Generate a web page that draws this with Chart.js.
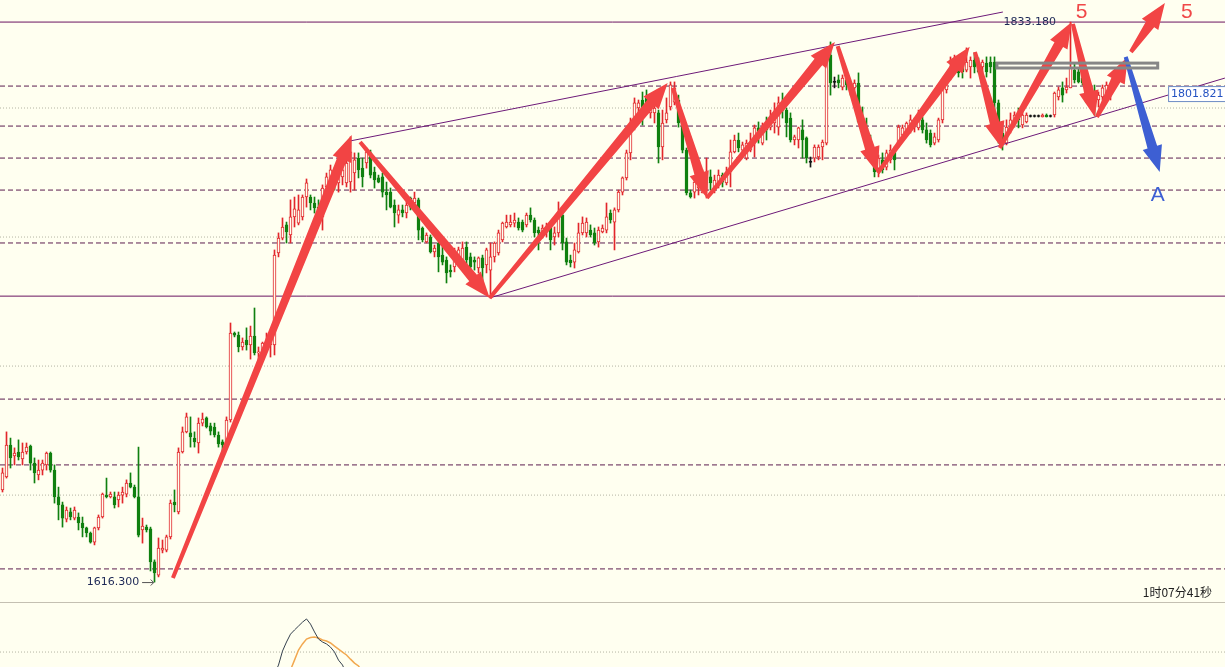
<!DOCTYPE html>
<html>
<head>
<meta charset="utf-8">
<title>XAUUSD</title>
<script src="https://cdn.jsdelivr.net/npm/chart.js@4.4.0/dist/chart.umd.min.js"></script>
<style>
  html, body { margin: 0; padding: 0; background: #fffff0; overflow: hidden; }
  #wrap { position: relative; width: 1225px; height: 667px; }
  #main { position: absolute; left: 0; top: 0; }
  #sep { position: absolute; left: 0; top: 602px; width: 1225px; height: 1px; background: #c4c0b2; }
  #sub { position: absolute; left: 0; top: 603px; }
</style>
</head>
<body>
<div id="wrap">
  <canvas id="main" width="1225" height="602"></canvas>
  <div id="sep"></div>
  <canvas id="sub" width="1225" height="64"></canvas>
</div>
<script>
// candle values, one entry per bar (bar index = position in array)
const open = [
  1652.0, 1657.0, 1669.4, 1665.2, 1666.7, 1664.0, 1666.7, 1669.0, 1662.4, 1657.8,
  1659.7, 1661.7, 1666.3, 1659.7, 1649.3, 1646.2, 1640.7, 1643.5, 1641.1, 1641.5,
  1639.2, 1637.3, 1635.3, 1631.8, 1637.3, 1641.5, 1650.0, 1649.3, 1649.3, 1648.1,
  1650.0, 1650.4, 1654.7, 1653.1, 1649.3, 1636.5, 1637.6, 1636.9, 1624.1, 1619.0,
  1628.7, 1628.7, 1633.8, 1647.3, 1643.5, 1666.7, 1674.5, 1674.1, 1672.1, 1670.2,
  1677.9, 1679.9, 1676.8, 1676.4, 1673.3, 1670.6, 1670.2, 1679.1, 1712.8, 1712.0,
  1707.4, 1710.1, 1708.2, 1711.6, 1705.1, 1706.2, 1707.4, 1708.2, 1708.2, 1743.8,
  1749.6, 1754.7, 1750.8, 1757.8, 1755.4, 1757.8, 1765.5, 1765.5, 1763.2, 1761.6,
  1757.8, 1769.4, 1772.1, 1773.3, 1771.0, 1773.3, 1771.0, 1771.4, 1774.8, 1780.6,
  1776.7, 1778.7, 1782.6, 1775.2, 1772.9, 1773.3, 1767.4, 1767.4, 1762.4, 1758.5,
  1760.5, 1759.3, 1765.1, 1763.2, 1764.4, 1753.5, 1748.1, 1750.0, 1744.2, 1747.7,
  1743.0, 1741.1, 1737.2, 1738.4, 1741.9, 1740.3, 1746.1, 1742.3, 1741.1, 1738.0,
  1741.9, 1739.2, 1737.2, 1742.3, 1743.8, 1748.9, 1753.9, 1754.7, 1755.4, 1755.8,
  1755.8, 1754.7, 1758.5, 1756.6, 1752.7, 1751.6, 1752.7, 1754.7, 1750.0, 1751.6,
  1758.5, 1748.1, 1741.1, 1740.3, 1744.2, 1751.6, 1751.6, 1752.7, 1751.6, 1748.1,
  1752.0, 1752.7, 1759.3, 1755.8, 1760.5, 1767.4, 1772.9, 1782.6, 1793.4, 1800.0,
  1803.1, 1803.9, 1798.1, 1798.1, 1798.1, 1784.9, 1795.4, 1800.4, 1802.3, 1803.1,
  1794.2, 1783.7, 1767.1, 1767.4, 1769.0, 1767.1, 1768.2, 1773.3, 1768.2, 1770.2,
  1774.0, 1771.0, 1775.2, 1783.0, 1787.6, 1783.7, 1780.6, 1783.7, 1788.8, 1792.3,
  1786.4, 1794.6, 1792.6, 1794.2, 1792.6, 1802.0, 1799.2, 1796.1, 1787.6, 1787.6,
  1791.5, 1788.4, 1779.1, 1780.6, 1781.0, 1784.9, 1786.4, 1820.5, 1810.1, 1810.9,
  1808.1, 1810.9, 1809.7, 1807.8, 1809.7, 1794.6, 1792.3, 1786.8, 1781.0, 1776.7,
  1779.9, 1777.1, 1779.9, 1783.7, 1786.4, 1789.5, 1790.3, 1791.5, 1792.6, 1792.3,
  1795.4, 1791.5, 1790.3, 1786.4, 1787.6, 1795.4, 1807.0, 1812.0, 1814.7, 1817.4,
  1816.7, 1814.7, 1815.9, 1818.6, 1816.7, 1815.9, 1817.4, 1817.8, 1817.8, 1802.0,
  1790.3, 1786.4, 1792.6, 1793.4, 1798.1, 1793.4, 1794.6, 1796.9, 1796.9, 1796.9,
  1796.5, 1797.3, 1796.9, 1797.3, 1804.3, 1807.8, 1807.0, 1807.8, 1814.7, 1814.0,
  1811.6, 1810.9, 1805.0, 1804.3, 1803.1, 1804.3, 1805.8, 1806.2
];
const high = [
  1660.5, 1674.5, 1672.1, 1668.3, 1671.4, 1670.2, 1670.2, 1669.4, 1664.4, 1663.6,
  1663.6, 1666.7, 1666.7, 1661.7, 1653.1, 1647.3, 1645.4, 1645.0, 1645.4, 1643.1,
  1641.5, 1637.6, 1635.7, 1637.6, 1642.3, 1650.8, 1656.6, 1651.2, 1651.2, 1651.2,
  1653.1, 1655.9, 1658.6, 1653.9, 1668.6, 1641.1, 1638.4, 1637.6, 1624.9, 1633.4,
  1632.6, 1634.5, 1648.1, 1652.0, 1668.3, 1676.4, 1681.8, 1680.3, 1674.5, 1679.9,
  1681.8, 1680.3, 1677.9, 1677.9, 1674.5, 1671.4, 1680.3, 1716.7, 1713.2, 1713.2,
  1710.9, 1714.8, 1715.5, 1722.5, 1707.4, 1709.3, 1712.8, 1712.8, 1745.0, 1751.6,
  1757.4, 1755.8, 1764.4, 1765.5, 1766.3, 1766.3, 1772.5, 1766.3, 1765.5, 1764.4,
  1770.2, 1774.8, 1777.9, 1776.8, 1779.9, 1778.7, 1783.0, 1788.8, 1782.6, 1782.6,
  1780.6, 1784.5, 1783.7, 1777.1, 1774.0, 1774.8, 1771.3, 1769.0, 1764.4, 1762.4,
  1762.4, 1763.6, 1765.5, 1767.4, 1765.1, 1753.9, 1751.6, 1750.8, 1746.9, 1748.1,
  1746.1, 1742.3, 1739.2, 1745.7, 1746.1, 1748.1, 1748.1, 1743.8, 1742.3, 1742.3,
  1743.0, 1745.7, 1747.7, 1748.1, 1752.7, 1755.8, 1758.5, 1758.5, 1759.3, 1757.4,
  1756.6, 1759.3, 1761.3, 1757.4, 1753.9, 1754.7, 1755.4, 1755.8, 1753.9, 1763.6,
  1760.5, 1749.6, 1743.0, 1747.7, 1755.4, 1757.8, 1757.4, 1754.7, 1753.5, 1753.9,
  1754.7, 1763.2, 1760.5, 1761.3, 1768.2, 1773.3, 1783.7, 1796.1, 1803.9, 1803.1,
  1806.2, 1807.0, 1803.1, 1803.1, 1799.2, 1799.2, 1803.9, 1810.1, 1810.1, 1805.0,
  1795.4, 1784.5, 1768.2, 1772.1, 1772.1, 1776.0, 1780.6, 1776.0, 1774.0, 1776.0,
  1774.8, 1777.1, 1787.6, 1789.5, 1790.3, 1786.8, 1787.6, 1790.3, 1793.4, 1794.6,
  1794.2, 1796.5, 1799.2, 1802.0, 1804.3, 1805.8, 1800.0, 1798.1, 1789.5, 1792.6,
  1795.4, 1788.8, 1781.0, 1785.7, 1785.7, 1787.6, 1822.5, 1825.6, 1812.0, 1812.8,
  1812.8, 1812.0, 1810.1, 1810.9, 1813.6, 1800.4, 1796.1, 1789.5, 1783.7, 1781.8,
  1782.6, 1783.7, 1785.7, 1784.9, 1793.4, 1793.4, 1794.6, 1797.3, 1796.1, 1799.2,
  1796.5, 1794.2, 1791.5, 1790.3, 1796.1, 1809.7, 1813.6, 1819.8, 1820.5, 1818.6,
  1819.4, 1823.3, 1819.8, 1821.3, 1819.4, 1818.6, 1819.8, 1819.8, 1819.8, 1803.1,
  1792.3, 1795.4, 1798.1, 1798.5, 1800.0, 1799.2, 1798.1, 1797.3, 1797.3, 1797.3,
  1797.7, 1797.7, 1797.3, 1806.2, 1808.1, 1810.1, 1811.6, 1833.3, 1817.4, 1815.5,
  1812.8, 1812.0, 1808.9, 1808.9, 1806.2, 1808.9, 1810.1, 1809.7
];
const low = [
  1651.2, 1656.6, 1660.5, 1661.7, 1663.6, 1661.7, 1665.9, 1659.7, 1654.7, 1655.9,
  1657.8, 1659.7, 1658.9, 1646.9, 1640.4, 1637.6, 1639.6, 1640.4, 1640.4, 1636.5,
  1633.8, 1633.8, 1631.4, 1630.7, 1636.5, 1641.1, 1648.9, 1648.9, 1645.0, 1645.4,
  1646.9, 1649.3, 1652.8, 1648.9, 1633.8, 1631.4, 1635.7, 1620.6, 1616.3, 1618.3,
  1627.6, 1628.0, 1633.0, 1643.5, 1642.7, 1666.3, 1674.1, 1668.6, 1668.6, 1666.3,
  1676.8, 1676.0, 1673.3, 1672.5, 1668.6, 1666.7, 1669.4, 1678.3, 1711.3, 1705.5,
  1706.2, 1706.2, 1702.7, 1704.3, 1701.6, 1703.1, 1706.2, 1703.5, 1704.3, 1742.3,
  1748.9, 1747.7, 1747.7, 1753.9, 1754.7, 1756.6, 1761.6, 1760.5, 1759.3, 1755.8,
  1752.7, 1767.4, 1770.2, 1768.2, 1767.4, 1770.2, 1769.4, 1767.4, 1768.2, 1772.9,
  1769.4, 1776.7, 1772.9, 1769.0, 1771.0, 1765.5, 1760.5, 1761.3, 1753.9, 1755.4,
  1757.8, 1757.4, 1760.5, 1760.5, 1748.9, 1748.1, 1747.7, 1743.8, 1742.3, 1736.5,
  1739.2, 1732.2, 1734.5, 1736.5, 1740.3, 1739.2, 1739.2, 1736.1, 1737.2, 1736.1,
  1732.6, 1736.1, 1726.4, 1740.3, 1743.0, 1748.1, 1753.5, 1753.9, 1753.9, 1752.7,
  1752.0, 1753.9, 1755.8, 1750.0, 1745.0, 1749.6, 1750.0, 1745.0, 1746.9, 1750.0,
  1745.0, 1739.2, 1738.4, 1738.0, 1743.8, 1750.8, 1750.0, 1750.0, 1746.9, 1746.1,
  1751.6, 1751.6, 1755.4, 1745.0, 1759.7, 1766.3, 1772.1, 1779.9, 1791.5, 1795.4,
  1793.4, 1799.2, 1796.1, 1794.2, 1778.7, 1779.9, 1794.2, 1799.2, 1801.2, 1792.6,
  1782.6, 1766.3, 1765.1, 1765.1, 1766.3, 1767.1, 1765.1, 1768.2, 1767.1, 1769.0,
  1769.4, 1770.2, 1769.4, 1782.6, 1783.0, 1781.0, 1779.9, 1783.0, 1781.0, 1786.4,
  1785.7, 1787.6, 1791.5, 1790.3, 1789.5, 1796.1, 1788.8, 1786.8, 1785.7, 1784.5,
  1780.6, 1778.7, 1777.1, 1779.1, 1779.9, 1779.9, 1785.7, 1805.0, 1807.8, 1807.8,
  1807.0, 1807.0, 1805.0, 1806.2, 1794.2, 1790.3, 1783.7, 1779.9, 1773.3, 1773.3,
  1774.8, 1776.0, 1778.7, 1776.0, 1784.9, 1788.4, 1789.5, 1790.3, 1790.7, 1791.5,
  1790.3, 1786.4, 1784.9, 1785.7, 1786.8, 1794.2, 1805.8, 1810.9, 1813.6, 1812.0,
  1811.6, 1814.0, 1811.6, 1813.6, 1813.6, 1813.6, 1812.0, 1813.6, 1799.2, 1786.4,
  1783.7, 1785.7, 1790.3, 1792.6, 1792.3, 1792.3, 1794.2, 1796.5, 1796.5, 1796.5,
  1796.5, 1796.5, 1796.5, 1796.5, 1803.1, 1802.3, 1805.8, 1807.8, 1809.7, 1809.7,
  1808.9, 1802.0, 1800.4, 1797.3, 1800.4, 1803.1, 1803.9, 1803.1
];
const close = [
  1658.6, 1669.4, 1664.4, 1666.3, 1664.8, 1666.7, 1668.6, 1662.4, 1658.6, 1659.7,
  1662.4, 1666.3, 1659.7, 1649.3, 1646.2, 1641.1, 1644.2, 1641.5, 1644.2, 1639.2,
  1637.3, 1635.3, 1631.8, 1637.3, 1641.5, 1650.4, 1649.3, 1650.4, 1646.2, 1650.0,
  1651.2, 1654.7, 1653.1, 1649.3, 1634.5, 1638.0, 1636.5, 1624.1, 1619.8, 1629.5,
  1629.5, 1633.8, 1646.9, 1646.2, 1666.7, 1674.5, 1680.3, 1672.5, 1670.6, 1677.9,
  1679.5, 1676.4, 1674.8, 1673.3, 1669.8, 1669.4, 1679.1, 1712.8, 1712.0, 1707.4,
  1709.3, 1708.2, 1711.6, 1705.1, 1705.5, 1708.9, 1708.9, 1712.0, 1743.0, 1749.6,
  1753.9, 1752.0, 1757.8, 1760.9, 1760.5, 1765.5, 1771.0, 1763.2, 1761.3, 1757.8,
  1769.0, 1773.3, 1776.0, 1770.2, 1778.7, 1776.0, 1778.7, 1783.0, 1779.9, 1776.0,
  1773.3, 1783.0, 1774.0, 1772.1, 1771.3, 1767.4, 1766.3, 1761.6, 1759.3, 1760.5,
  1759.3, 1762.4, 1761.6, 1765.1, 1752.7, 1748.9, 1750.8, 1744.2, 1745.7, 1742.3,
  1740.3, 1736.1, 1736.5, 1743.8, 1745.0, 1745.7, 1741.1, 1738.4, 1740.3, 1741.9,
  1738.0, 1745.0, 1742.3, 1747.7, 1751.6, 1755.4, 1755.8, 1755.8, 1756.6, 1753.5,
  1752.7, 1758.5, 1756.6, 1751.6, 1751.6, 1753.5, 1753.9, 1748.9, 1751.6, 1759.7,
  1747.7, 1740.3, 1740.0, 1745.0, 1751.6, 1755.4, 1755.8, 1750.8, 1747.7, 1752.7,
  1753.5, 1757.8, 1756.6, 1760.5, 1767.4, 1772.9, 1782.6, 1793.4, 1802.0, 1802.0,
  1796.5, 1800.4, 1800.0, 1800.0, 1784.9, 1794.2, 1798.1, 1809.0, 1807.8, 1794.2,
  1783.7, 1767.1, 1765.5, 1771.3, 1771.0, 1769.4, 1771.3, 1771.0, 1772.1, 1774.0,
  1771.3, 1775.2, 1783.0, 1787.6, 1784.5, 1785.7, 1786.4, 1786.8, 1792.3, 1789.5,
  1790.7, 1791.5, 1796.5, 1798.1, 1802.0, 1799.2, 1794.2, 1787.6, 1788.8, 1792.3,
  1787.6, 1780.6, 1779.1, 1784.9, 1784.9, 1786.8, 1820.5, 1809.7, 1810.1, 1809.7,
  1811.6, 1808.9, 1808.1, 1809.7, 1794.6, 1791.5, 1786.8, 1781.0, 1775.2, 1780.6,
  1776.0, 1782.6, 1783.7, 1779.9, 1792.6, 1792.3, 1794.2, 1795.4, 1794.6, 1796.5,
  1791.5, 1787.6, 1785.7, 1788.8, 1795.4, 1807.8, 1812.0, 1815.5, 1818.6, 1813.6,
  1814.0, 1817.8, 1818.6, 1815.9, 1814.0, 1817.8, 1814.0, 1815.9, 1802.0, 1790.3,
  1786.4, 1792.6, 1795.4, 1797.3, 1795.4, 1797.3, 1797.3, 1796.9, 1796.9, 1796.9,
  1797.3, 1796.5, 1796.9, 1805.8, 1807.0, 1805.0, 1808.1, 1815.5, 1810.9, 1810.1,
  1809.7, 1802.3, 1802.0, 1800.4, 1805.0, 1807.8, 1808.9, 1807.8
];

// horizontal levels drawn across the chart
const solidLevels = [1833.3, 1727.1];
const dashedLevels = [1808.5, 1793.0, 1780.6, 1768.2, 1747.7, 1687.2, 1661.7, 1621.4];
const gridLevels = [1800, 1750, 1700, 1650];

// channel lines [barIndex, price] pairs
const channelUpper = [[86.8, 1787.2], [250.1, 1837.2]];
const channelLower = [[121.8, 1726.4], [305.6, 1811.6]];

// wave arrows: [fromBar, fromPrice, toBar, toPrice]
const redArrows = [
  [42.6, 1617.9, 87.3, 1789.5],
  [89.4, 1786.8, 121.8, 1726.4],
  [121.8, 1726.4, 166.3, 1809.7],
  [167.6, 1807.8, 176.1, 1765.1],
  [176.1, 1765.1, 208.1, 1825.6],
  [208.8, 1824.0, 218.8, 1774.8],
  [218.8, 1774.8, 241.8, 1823.7],
  [243.1, 1821.7, 249.8, 1784.5],
  [249.3, 1784.5, 267.3, 1833.3],
  [267.6, 1832.6, 273.1, 1796.5],
  [273.6, 1796.5, 281.3, 1819.8],
  [282.1, 1821.7, 290.6, 1840.7]
];
const blueArrows = [[280.8, 1819.8, 289.3, 1775.2]];
const zoneBox = [248.6, 1817.4, 288.8, 1815.5];

// oscillator in the lower window
const oscStart = 64;
const oscMain = [50, 56, 62, 67, 71, 74.7, 80.4, 84.1, 87.3, 89.0, 90.6, 92.2, 93.5, 91.4,
  88.2, 85.3, 84.1, 83.3, 82.0, 80.0, 76.7, 74.7, 71, 67, 62];
const oscSignal = [null, null, null, null, 60, 64, 67, 70, 72.7, 76.7, 80.8, 83.3, 85.3, 85.9,
  86.1, 85.7, 84.9, 84.5, 83.7, 82.4, 81.2, 80.0, 78.8, 77.1, 75.5, 74.3, 72, 69, 66];
const oscLevels = [80];

const X_MIN = -0.625, X_MAX = 305.625;
const Y_MIN = 1608.58, Y_MAX = 1841.85;

const RED = '#e2262b', GREEN = '#108010', DOJI = '#151515', BG = '#fffff0';

function colorOf(i) {
  if (close[i] > open[i]) return RED;
  if (close[i] < open[i]) return GREEN;
  return DOJI;
}

const bars = open.map((_, i) => i);
const wickData = bars.map(i => ({ x: i, y: [low[i], high[i]] }));
const bodyData = bars.map(i => {
  const a = Math.min(open[i], close[i]);
  const b = Math.max(open[i], close[i]);
  return { x: i, y: b - a < 0.3 ? [a - 0.2, b + 0.2] : [a, b] };
});
const candleColors = bars.map(colorOf);
const bodyFill = bars.map(i => close[i] > open[i] ? BG : colorOf(i));

function hline(v, color, dash, order) {
  return {
    type: 'line',
    data: [{ x: X_MIN, y: v }, { x: X_MAX, y: v }],
    borderColor: color,
    borderWidth: 1,
    borderDash: dash,
    pointRadius: 0,
    order: order
  };
}

function segment(pts, color, order) {
  return {
    type: 'line',
    data: pts.map(p => ({ x: p[0], y: p[1] })),
    borderColor: color,
    borderWidth: 1,
    pointRadius: 0,
    order: order
  };
}

function drawArrow(ctx, x0, y0, x1, y1, color) {
  const dx = x1 - x0, dy = y1 - y0;
  const len = Math.hypot(dx, dy);
  const ux = dx / len, uy = dy / len;
  const nx = -uy, ny = ux;
  const hl = Math.min(26, len * 0.45), hw = 10, w0 = 2, w1 = 5;
  const bx = x1 - ux * hl, by = y1 - uy * hl;
  ctx.beginPath();
  ctx.moveTo(x0 + nx * w0, y0 + ny * w0);
  ctx.lineTo(bx + nx * w1, by + ny * w1);
  ctx.lineTo(bx + nx * hw, by + ny * hw);
  ctx.lineTo(x1, y1);
  ctx.lineTo(bx - nx * hw, by - ny * hw);
  ctx.lineTo(bx - nx * w1, by - ny * w1);
  ctx.lineTo(x0 - nx * w0, y0 - ny * w0);
  ctx.closePath();
  ctx.fillStyle = color;
  ctx.fill();
}

// arrows, box and text labels on top of the candles
const annotations = {
  id: 'annotations',
  afterDatasetsDraw(chart) {
    const { ctx } = chart;
    const xs = chart.scales.x, ys = chart.scales.y;
    const px = v => xs.getPixelForValue(v);
    const py = v => ys.getPixelForValue(v);
    ctx.save();

    redArrows.forEach(a => drawArrow(ctx, px(a[0]), py(a[1]), px(a[2]), py(a[3]), '#f24444'));
    blueArrows.forEach(a => drawArrow(ctx, px(a[0]), py(a[1]), px(a[2]), py(a[3]), '#3d5fd3'));

    // resistance zone
    ctx.strokeStyle = '#868686';
    ctx.lineWidth = 3;
    const bx0 = px(zoneBox[0]), by0 = py(zoneBox[1]);
    ctx.strokeRect(bx0, by0, px(zoneBox[2]) - bx0, py(zoneBox[3]) - by0);

    // high / low labels
    ctx.font = '11px "DejaVu Sans"';
    ctx.fillStyle = '#1d2856';
    ctx.textBaseline = 'middle';
    ctx.textAlign = 'right';
    ctx.fillText('1833.180', px(263.4), py(1833.3));
    ctx.fillText('1616.300', px(34.2), py(1616.3));

    // small pointer from the low label to the low bar
    const ax0 = px(34.9), ax1 = px(37.8), ay = py(1616.3);
    ctx.strokeStyle = '#555';
    ctx.lineWidth = 1;
    ctx.beginPath();
    ctx.moveTo(ax0, ay + 0.5);
    ctx.lineTo(ax1, ay + 0.5);
    ctx.moveTo(ax1 - 3, ay - 2.5);
    ctx.lineTo(ax1, ay + 0.5);
    ctx.lineTo(ax1 - 3, ay + 3.5);
    ctx.stroke();

    // wave labels
    ctx.textAlign = 'center';
    ctx.font = '21px "Liberation Sans"';
    ctx.fillStyle = '#f04848';
    ctx.fillText('5', px(269.8), py(1837.2));
    ctx.fillText('5', px(296.1), py(1837.2));
    ctx.fillStyle = '#3d5fd3';
    ctx.fillText('A', px(288.8), py(1766.3));

    // trend line price tag
    const tx = px(291.4), ty = py(1805.4);
    ctx.fillStyle = '#ffffff';
    ctx.fillRect(tx, ty - 8, 62, 16);
    ctx.strokeStyle = '#6d8cc4';
    ctx.lineWidth = 1;
    ctx.strokeRect(tx + 0.5, ty - 7.5, 62, 15);
    ctx.fillStyle = '#2452c2';
    ctx.textAlign = 'left';
    ctx.font = '11px "DejaVu Sans"';
    ctx.fillText('1801.821', tx + 3, ty + 0.5);

    // bar countdown
    ctx.textAlign = 'right';
    ctx.fillStyle = '#222';
    ctx.font = '12px "Noto Sans CJK SC"';
    ctx.fillText('1时07分41秒', px(302.4), py(1612.4));

    ctx.restore();
  }
};

const datasets = [];
gridLevels.forEach(v => datasets.push(hline(v, '#b4b4a4', [1, 2], 9)));
dashedLevels.forEach(v => datasets.push(hline(v, '#5b1d4e', [5, 3], 8)));
solidLevels.forEach(v => datasets.push(hline(v, '#6a1460', [], 8)));
datasets.push({
  type: 'bar',
  data: wickData,
  backgroundColor: candleColors,
  borderWidth: 0,
  barThickness: 1,
  grouped: false,
  order: 6
});
datasets.push({
  type: 'bar',
  data: bodyData,
  backgroundColor: bodyFill,
  borderColor: candleColors,
  borderWidth: 1,
  borderSkipped: false,
  barThickness: 3,
  grouped: false,
  order: 5
});
datasets.push(segment(channelUpper, '#6d1a78', 3));
datasets.push(segment(channelLower, '#6d1a78', 3));

new Chart(document.getElementById('main'), {
  type: 'bar',
  data: { datasets: datasets },
  options: {
    responsive: false,
    animation: false,
    devicePixelRatio: 1,
    events: [],
    layout: { padding: 0 },
    plugins: { legend: { display: false }, tooltip: { enabled: false } },
    scales: {
      x: { type: 'linear', min: X_MIN, max: X_MAX, display: false, offset: false },
      y: { type: 'linear', min: Y_MIN, max: Y_MAX, display: false }
    }
  },
  plugins: [annotations]
});

// lower indicator window
const subSets = [];
oscLevels.forEach(v => subSets.push(hline(v, '#b4b4a4', [1, 2], 5)));
subSets.push({
  type: 'line',
  data: oscSignal.map((v, i) => ({ x: oscStart + i, y: v })),
  borderColor: '#f2a850',
  borderWidth: 1.5,
  pointRadius: 0,
  order: 2
});
subSets.push({
  type: 'line',
  data: oscMain.map((v, i) => ({ x: oscStart + i, y: v })),
  borderColor: '#34404e',
  borderWidth: 1,
  pointRadius: 0,
  order: 1
});

new Chart(document.getElementById('sub'), {
  type: 'line',
  data: { datasets: subSets },
  options: {
    responsive: false,
    animation: false,
    devicePixelRatio: 1,
    events: [],
    layout: { padding: 0 },
    plugins: { legend: { display: false }, tooltip: { enabled: false } },
    scales: {
      x: { type: 'linear', min: X_MIN, max: X_MAX, display: false },
      y: { type: 'linear', min: 73.9, max: 100, display: false }
    }
  }
});
</script>
</body>
</html>
